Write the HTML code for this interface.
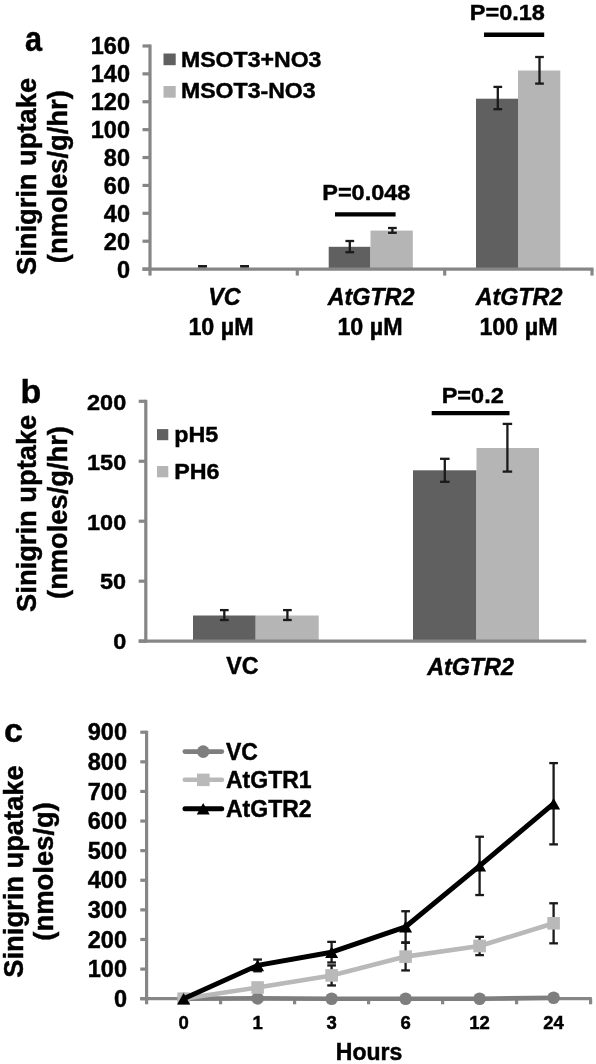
<!DOCTYPE html>
<html><head><meta charset="utf-8"><style>
html,body{margin:0;padding:0;background:#fff;}
body{width:596px;height:1064px;overflow:hidden;}
svg{display:block;will-change:transform;font-family:"Liberation Sans",sans-serif;font-weight:bold;}
text{stroke:#000;stroke-width:0.45px;}
</style></head><body>
<svg width="596" height="1064" viewBox="0 0 596 1064">
<rect x="0" y="0" width="596" height="1064" fill="#fff"/>
<text transform="translate(25,51.3) scale(0.9,1.04)" font-size="34" text-anchor="start" >a</text>
<rect x="328.7" y="246.8" width="41.8" height="22.3" fill="#606060"/>
<rect x="370.5" y="230.6" width="42.3" height="38.5" fill="#b5b5b5"/>
<rect x="476" y="98.7" width="42" height="170.4" fill="#606060"/>
<rect x="518" y="70.5" width="42.3" height="198.6" fill="#b5b5b5"/>
<line x1="150" y1="44.48" x2="150" y2="275.6" stroke="#868686" stroke-width="3.2" stroke-linecap="butt"/>
<line x1="142.5" y1="269.1" x2="593.5" y2="269.1" stroke="#868686" stroke-width="3.2" stroke-linecap="butt"/>
<line x1="142.5" y1="269.1" x2="150" y2="269.1" stroke="#868686" stroke-width="3.2" stroke-linecap="butt"/>
<text x="130" y="277.6" font-size="23.5" text-anchor="end" >0</text>
<line x1="142.5" y1="241.21" x2="150" y2="241.21" stroke="#868686" stroke-width="3.2" stroke-linecap="butt"/>
<text x="130" y="249.71" font-size="23.5" text-anchor="end" >20</text>
<line x1="142.5" y1="213.32" x2="150" y2="213.32" stroke="#868686" stroke-width="3.2" stroke-linecap="butt"/>
<text x="130" y="221.82" font-size="23.5" text-anchor="end" >40</text>
<line x1="142.5" y1="185.43" x2="150" y2="185.43" stroke="#868686" stroke-width="3.2" stroke-linecap="butt"/>
<text x="130" y="193.93" font-size="23.5" text-anchor="end" >60</text>
<line x1="142.5" y1="157.54" x2="150" y2="157.54" stroke="#868686" stroke-width="3.2" stroke-linecap="butt"/>
<text x="130" y="166.04" font-size="23.5" text-anchor="end" >80</text>
<line x1="142.5" y1="129.65" x2="150" y2="129.65" stroke="#868686" stroke-width="3.2" stroke-linecap="butt"/>
<text x="130" y="138.15" font-size="23.5" text-anchor="end" >100</text>
<line x1="142.5" y1="101.76" x2="150" y2="101.76" stroke="#868686" stroke-width="3.2" stroke-linecap="butt"/>
<text x="130" y="110.26" font-size="23.5" text-anchor="end" >120</text>
<line x1="142.5" y1="73.87" x2="150" y2="73.87" stroke="#868686" stroke-width="3.2" stroke-linecap="butt"/>
<text x="130" y="82.37" font-size="23.5" text-anchor="end" >140</text>
<line x1="142.5" y1="45.98" x2="150" y2="45.98" stroke="#868686" stroke-width="3.2" stroke-linecap="butt"/>
<text x="130" y="54.48" font-size="23.5" text-anchor="end" >160</text>
<line x1="297.3" y1="269.1" x2="297.3" y2="275.6" stroke="#868686" stroke-width="3.2" stroke-linecap="butt"/>
<line x1="444.7" y1="269.1" x2="444.7" y2="275.6" stroke="#868686" stroke-width="3.2" stroke-linecap="butt"/>
<line x1="592" y1="269.1" x2="592" y2="275.6" stroke="#868686" stroke-width="3.2" stroke-linecap="butt"/>
<line x1="202.5" y1="266.2" x2="202.5" y2="266.2" stroke="#1a1a1a" stroke-width="2.3" stroke-linecap="butt"/>
<line x1="198.15" y1="266.2" x2="206.85" y2="266.2" stroke="#1a1a1a" stroke-width="2.3" stroke-linecap="butt"/>
<line x1="198.15" y1="266.2" x2="206.85" y2="266.2" stroke="#1a1a1a" stroke-width="2.3" stroke-linecap="butt"/>
<line x1="244.6" y1="266.2" x2="244.6" y2="266.2" stroke="#1a1a1a" stroke-width="2.3" stroke-linecap="butt"/>
<line x1="240.25" y1="266.2" x2="248.95" y2="266.2" stroke="#1a1a1a" stroke-width="2.3" stroke-linecap="butt"/>
<line x1="240.25" y1="266.2" x2="248.95" y2="266.2" stroke="#1a1a1a" stroke-width="2.3" stroke-linecap="butt"/>
<line x1="349.8" y1="241" x2="349.8" y2="252.2" stroke="#1a1a1a" stroke-width="2.3" stroke-linecap="butt"/>
<line x1="345.45" y1="241" x2="354.15" y2="241" stroke="#1a1a1a" stroke-width="2.3" stroke-linecap="butt"/>
<line x1="345.45" y1="252.2" x2="354.15" y2="252.2" stroke="#1a1a1a" stroke-width="2.3" stroke-linecap="butt"/>
<line x1="392.4" y1="228" x2="392.4" y2="232.8" stroke="#1a1a1a" stroke-width="2.3" stroke-linecap="butt"/>
<line x1="388.05" y1="228" x2="396.75" y2="228" stroke="#1a1a1a" stroke-width="2.3" stroke-linecap="butt"/>
<line x1="388.05" y1="232.8" x2="396.75" y2="232.8" stroke="#1a1a1a" stroke-width="2.3" stroke-linecap="butt"/>
<line x1="497.8" y1="86.9" x2="497.8" y2="109.2" stroke="#1a1a1a" stroke-width="2.3" stroke-linecap="butt"/>
<line x1="493.45" y1="86.9" x2="502.15" y2="86.9" stroke="#1a1a1a" stroke-width="2.3" stroke-linecap="butt"/>
<line x1="493.45" y1="109.2" x2="502.15" y2="109.2" stroke="#1a1a1a" stroke-width="2.3" stroke-linecap="butt"/>
<line x1="539.5" y1="57" x2="539.5" y2="83.6" stroke="#1a1a1a" stroke-width="2.3" stroke-linecap="butt"/>
<line x1="535.15" y1="57" x2="543.85" y2="57" stroke="#1a1a1a" stroke-width="2.3" stroke-linecap="butt"/>
<line x1="535.15" y1="83.6" x2="543.85" y2="83.6" stroke="#1a1a1a" stroke-width="2.3" stroke-linecap="butt"/>
<line x1="335" y1="214.4" x2="395.6" y2="214.4" stroke="#000" stroke-width="4.4" stroke-linecap="butt"/>
<line x1="484" y1="34.8" x2="544.2" y2="34.8" stroke="#000" stroke-width="4.4" stroke-linecap="butt"/>
<text transform="translate(366.3,200.2) scale(1,0.93)" font-size="23.5" text-anchor="middle" >P=0.048</text>
<text transform="translate(507.3,19.9) scale(1,0.92)" font-size="23.5" text-anchor="middle" >P=0.18</text>
<rect x="163.5" y="53.5" width="12.2" height="11.7" fill="#606060"/>
<rect x="163.5" y="86" width="12.2" height="11.7" fill="#b5b5b5"/>
<text transform="translate(181,66.7) scale(1,0.96)" font-size="23.1" text-anchor="start" >MSOT3+NO3</text>
<text transform="translate(181,98.2) scale(1,0.96)" font-size="23.1" text-anchor="start" >MSOT3-NO3</text>
<text x="224.5" y="304.5" font-size="23.3" text-anchor="middle" font-style="italic" >VC</text>
<text x="221" y="334.5" font-size="23.3" text-anchor="middle" >10 µM</text>
<text x="371" y="304.5" font-size="23.3" text-anchor="middle" font-style="italic" >AtGTR2</text>
<text x="370" y="334.5" font-size="23.3" text-anchor="middle" >10 µM</text>
<text x="519" y="304.5" font-size="23.3" text-anchor="middle" font-style="italic" >AtGTR2</text>
<text x="518.5" y="334.5" font-size="23.3" text-anchor="middle" >100 µM</text>
<text transform="translate(36.3,176.5) rotate(-90)" font-size="27.3" text-anchor="middle">Sinigrin uptake</text>
<text transform="translate(67,176.7) rotate(-90)" font-size="27.3" text-anchor="middle">(nmoles/g/hr)</text>
<text x="20.6" y="402.5" font-size="34" text-anchor="start" >b</text>
<rect x="193" y="615.5" width="62.7" height="25.6" fill="#606060"/>
<rect x="255.7" y="615.5" width="63" height="25.6" fill="#b5b5b5"/>
<rect x="413" y="470.3" width="63.5" height="170.8" fill="#606060"/>
<rect x="476.5" y="448" width="62.5" height="193.1" fill="#b5b5b5"/>
<line x1="145.8" y1="399.8" x2="145.8" y2="642.7" stroke="#868686" stroke-width="3.2" stroke-linecap="butt"/>
<line x1="138.7" y1="641.1" x2="586.3" y2="641.1" stroke="#868686" stroke-width="3.2" stroke-linecap="butt"/>
<line x1="138.7" y1="641.1" x2="145.8" y2="641.1" stroke="#868686" stroke-width="3.2" stroke-linecap="butt"/>
<text transform="translate(126.2,649.4) scale(1,0.93)" font-size="23.5" text-anchor="end" >0</text>
<line x1="138.7" y1="581.15" x2="145.8" y2="581.15" stroke="#868686" stroke-width="3.2" stroke-linecap="butt"/>
<text transform="translate(126.2,589.45) scale(1,0.93)" font-size="23.5" text-anchor="end" >50</text>
<line x1="138.7" y1="521.2" x2="145.8" y2="521.2" stroke="#868686" stroke-width="3.2" stroke-linecap="butt"/>
<text transform="translate(126.2,529.5) scale(1,0.93)" font-size="23.5" text-anchor="end" >100</text>
<line x1="138.7" y1="461.25" x2="145.8" y2="461.25" stroke="#868686" stroke-width="3.2" stroke-linecap="butt"/>
<text transform="translate(126.2,469.55) scale(1,0.93)" font-size="23.5" text-anchor="end" >150</text>
<line x1="138.7" y1="401.3" x2="145.8" y2="401.3" stroke="#868686" stroke-width="3.2" stroke-linecap="butt"/>
<text transform="translate(126.2,409.6) scale(1,0.93)" font-size="23.5" text-anchor="end" >200</text>
<line x1="224.3" y1="610.1" x2="224.3" y2="620" stroke="#1a1a1a" stroke-width="2.3" stroke-linecap="butt"/>
<line x1="219.95" y1="610.1" x2="228.65" y2="610.1" stroke="#1a1a1a" stroke-width="2.3" stroke-linecap="butt"/>
<line x1="219.95" y1="620" x2="228.65" y2="620" stroke="#1a1a1a" stroke-width="2.3" stroke-linecap="butt"/>
<line x1="287.4" y1="610.1" x2="287.4" y2="620" stroke="#1a1a1a" stroke-width="2.3" stroke-linecap="butt"/>
<line x1="283.05" y1="610.1" x2="291.75" y2="610.1" stroke="#1a1a1a" stroke-width="2.3" stroke-linecap="butt"/>
<line x1="283.05" y1="620" x2="291.75" y2="620" stroke="#1a1a1a" stroke-width="2.3" stroke-linecap="butt"/>
<line x1="444.8" y1="458.8" x2="444.8" y2="481.8" stroke="#1a1a1a" stroke-width="2.3" stroke-linecap="butt"/>
<line x1="440.05" y1="458.8" x2="449.55" y2="458.8" stroke="#1a1a1a" stroke-width="2.3" stroke-linecap="butt"/>
<line x1="440.05" y1="481.8" x2="449.55" y2="481.8" stroke="#1a1a1a" stroke-width="2.3" stroke-linecap="butt"/>
<line x1="507.4" y1="423.9" x2="507.4" y2="471.6" stroke="#1a1a1a" stroke-width="2.3" stroke-linecap="butt"/>
<line x1="502.65" y1="423.9" x2="512.15" y2="423.9" stroke="#1a1a1a" stroke-width="2.3" stroke-linecap="butt"/>
<line x1="502.65" y1="471.6" x2="512.15" y2="471.6" stroke="#1a1a1a" stroke-width="2.3" stroke-linecap="butt"/>
<line x1="431.7" y1="413.1" x2="509.5" y2="413.1" stroke="#000" stroke-width="4.4" stroke-linecap="butt"/>
<text transform="translate(472.7,402.7) scale(1,0.93)" font-size="23.5" text-anchor="middle" >P=0.2</text>
<rect x="157" y="429.1" width="11.3" height="11.1" fill="#606060"/>
<rect x="157" y="466" width="11.3" height="11.3" fill="#b5b5b5"/>
<text transform="translate(174.2,441.6) scale(1,0.94)" font-size="23.3" text-anchor="start" >pH5</text>
<text transform="translate(174.2,479.1) scale(1,0.93)" font-size="23.3" text-anchor="start" >PH6</text>
<text x="242.5" y="674" font-size="23.3" text-anchor="middle" >VC</text>
<text x="470.5" y="674.5" font-size="23.3" text-anchor="middle" font-style="italic" >AtGTR2</text>
<text transform="translate(35.8,513.3) rotate(-90)" font-size="27.3" text-anchor="middle">Sinigrin uptake</text>
<text transform="translate(66.5,512.5) rotate(-90)" font-size="27.3" text-anchor="middle">(nmoles/g/hr)</text>
<text x="4" y="742" font-size="34" text-anchor="start" >c</text>
<line x1="146.6" y1="730.71" x2="146.6" y2="1004.3" stroke="#868686" stroke-width="3.2" stroke-linecap="butt"/>
<line x1="140.3" y1="998.7" x2="591.8" y2="998.7" stroke="#868686" stroke-width="3.2" stroke-linecap="butt"/>
<line x1="140.3" y1="998.7" x2="146.6" y2="998.7" stroke="#868686" stroke-width="3.2" stroke-linecap="butt"/>
<text x="127" y="1006.9" font-size="23.5" text-anchor="end" >0</text>
<line x1="140.3" y1="969.09" x2="146.6" y2="969.09" stroke="#868686" stroke-width="3.2" stroke-linecap="butt"/>
<text x="127" y="977.29" font-size="23.5" text-anchor="end" >100</text>
<line x1="140.3" y1="939.48" x2="146.6" y2="939.48" stroke="#868686" stroke-width="3.2" stroke-linecap="butt"/>
<text x="127" y="947.68" font-size="23.5" text-anchor="end" >200</text>
<line x1="140.3" y1="909.87" x2="146.6" y2="909.87" stroke="#868686" stroke-width="3.2" stroke-linecap="butt"/>
<text x="127" y="918.07" font-size="23.5" text-anchor="end" >300</text>
<line x1="140.3" y1="880.26" x2="146.6" y2="880.26" stroke="#868686" stroke-width="3.2" stroke-linecap="butt"/>
<text x="127" y="888.46" font-size="23.5" text-anchor="end" >400</text>
<line x1="140.3" y1="850.65" x2="146.6" y2="850.65" stroke="#868686" stroke-width="3.2" stroke-linecap="butt"/>
<text x="127" y="858.85" font-size="23.5" text-anchor="end" >500</text>
<line x1="140.3" y1="821.04" x2="146.6" y2="821.04" stroke="#868686" stroke-width="3.2" stroke-linecap="butt"/>
<text x="127" y="829.24" font-size="23.5" text-anchor="end" >600</text>
<line x1="140.3" y1="791.43" x2="146.6" y2="791.43" stroke="#868686" stroke-width="3.2" stroke-linecap="butt"/>
<text x="127" y="799.63" font-size="23.5" text-anchor="end" >700</text>
<line x1="140.3" y1="761.82" x2="146.6" y2="761.82" stroke="#868686" stroke-width="3.2" stroke-linecap="butt"/>
<text x="127" y="770.02" font-size="23.5" text-anchor="end" >800</text>
<line x1="140.3" y1="732.21" x2="146.6" y2="732.21" stroke="#868686" stroke-width="3.2" stroke-linecap="butt"/>
<text x="127" y="740.41" font-size="23.5" text-anchor="end" >900</text>
<line x1="220.6" y1="998.7" x2="220.6" y2="1004.3" stroke="#868686" stroke-width="3.2" stroke-linecap="butt"/>
<line x1="294.6" y1="998.7" x2="294.6" y2="1004.3" stroke="#868686" stroke-width="3.2" stroke-linecap="butt"/>
<line x1="368.6" y1="998.7" x2="368.6" y2="1004.3" stroke="#868686" stroke-width="3.2" stroke-linecap="butt"/>
<line x1="442.6" y1="998.7" x2="442.6" y2="1004.3" stroke="#868686" stroke-width="3.2" stroke-linecap="butt"/>
<line x1="516.6" y1="998.7" x2="516.6" y2="1004.3" stroke="#868686" stroke-width="3.2" stroke-linecap="butt"/>
<line x1="590.6" y1="998.7" x2="590.6" y2="1004.3" stroke="#868686" stroke-width="3.2" stroke-linecap="butt"/>
<text x="183.6" y="1028.5" font-size="18.5" text-anchor="middle" >0</text>
<text x="257.6" y="1028.5" font-size="18.5" text-anchor="middle" >1</text>
<text x="331.6" y="1028.5" font-size="18.5" text-anchor="middle" >3</text>
<text x="405.6" y="1028.5" font-size="18.5" text-anchor="middle" >6</text>
<text x="479.6" y="1028.5" font-size="18.5" text-anchor="middle" >12</text>
<text x="553.6" y="1028.5" font-size="18.5" text-anchor="middle" >24</text>
<text x="369" y="1060.3" font-size="23" text-anchor="middle" >Hours</text>
<line x1="257.6" y1="959.53" x2="257.6" y2="971.31" stroke="#1a1a1a" stroke-width="2.3" stroke-linecap="butt"/>
<line x1="253.25" y1="959.53" x2="261.95" y2="959.53" stroke="#1a1a1a" stroke-width="2.3" stroke-linecap="butt"/>
<line x1="253.25" y1="971.31" x2="261.95" y2="971.31" stroke="#1a1a1a" stroke-width="2.3" stroke-linecap="butt"/>
<line x1="331.6" y1="965.42" x2="331.6" y2="985.45" stroke="#1a1a1a" stroke-width="2.3" stroke-linecap="butt"/>
<line x1="327.25" y1="965.42" x2="335.95" y2="965.42" stroke="#1a1a1a" stroke-width="2.3" stroke-linecap="butt"/>
<line x1="327.25" y1="985.45" x2="335.95" y2="985.45" stroke="#1a1a1a" stroke-width="2.3" stroke-linecap="butt"/>
<line x1="331.6" y1="941.86" x2="331.6" y2="962.48" stroke="#1a1a1a" stroke-width="2.3" stroke-linecap="butt"/>
<line x1="327.25" y1="941.86" x2="335.95" y2="941.86" stroke="#1a1a1a" stroke-width="2.3" stroke-linecap="butt"/>
<line x1="327.25" y1="962.48" x2="335.95" y2="962.48" stroke="#1a1a1a" stroke-width="2.3" stroke-linecap="butt"/>
<line x1="405.6" y1="942.75" x2="405.6" y2="970.43" stroke="#1a1a1a" stroke-width="2.3" stroke-linecap="butt"/>
<line x1="401.25" y1="942.75" x2="409.95" y2="942.75" stroke="#1a1a1a" stroke-width="2.3" stroke-linecap="butt"/>
<line x1="401.25" y1="970.43" x2="409.95" y2="970.43" stroke="#1a1a1a" stroke-width="2.3" stroke-linecap="butt"/>
<line x1="405.6" y1="911.23" x2="405.6" y2="942.45" stroke="#1a1a1a" stroke-width="2.3" stroke-linecap="butt"/>
<line x1="401.25" y1="911.23" x2="409.95" y2="911.23" stroke="#1a1a1a" stroke-width="2.3" stroke-linecap="butt"/>
<line x1="401.25" y1="942.45" x2="409.95" y2="942.45" stroke="#1a1a1a" stroke-width="2.3" stroke-linecap="butt"/>
<line x1="479.6" y1="936.86" x2="479.6" y2="955.11" stroke="#1a1a1a" stroke-width="2.3" stroke-linecap="butt"/>
<line x1="475.25" y1="936.86" x2="483.95" y2="936.86" stroke="#1a1a1a" stroke-width="2.3" stroke-linecap="butt"/>
<line x1="475.25" y1="955.11" x2="483.95" y2="955.11" stroke="#1a1a1a" stroke-width="2.3" stroke-linecap="butt"/>
<line x1="479.6" y1="836.73" x2="479.6" y2="895.04" stroke="#1a1a1a" stroke-width="2.3" stroke-linecap="butt"/>
<line x1="475.25" y1="836.73" x2="483.95" y2="836.73" stroke="#1a1a1a" stroke-width="2.3" stroke-linecap="butt"/>
<line x1="475.25" y1="895.04" x2="483.95" y2="895.04" stroke="#1a1a1a" stroke-width="2.3" stroke-linecap="butt"/>
<line x1="553.6" y1="903.28" x2="553.6" y2="943.33" stroke="#1a1a1a" stroke-width="2.3" stroke-linecap="butt"/>
<line x1="549.25" y1="903.28" x2="557.95" y2="903.28" stroke="#1a1a1a" stroke-width="2.3" stroke-linecap="butt"/>
<line x1="549.25" y1="943.33" x2="557.95" y2="943.33" stroke="#1a1a1a" stroke-width="2.3" stroke-linecap="butt"/>
<line x1="553.6" y1="763.1" x2="553.6" y2="844.38" stroke="#1a1a1a" stroke-width="2.3" stroke-linecap="butt"/>
<line x1="549.25" y1="763.1" x2="557.95" y2="763.1" stroke="#1a1a1a" stroke-width="2.3" stroke-linecap="butt"/>
<line x1="549.25" y1="844.38" x2="557.95" y2="844.38" stroke="#1a1a1a" stroke-width="2.3" stroke-linecap="butt"/>
<polyline points="183.6,998.7 257.6,998.4 331.6,998.7 405.6,998.7 479.6,998.7 553.6,997.8" fill="none" stroke="#7e7e7e" stroke-width="4.6" stroke-linejoin="round"/>
<circle cx="183.6" cy="998.7" r="6.3" fill="#7e7e7e"/>
<circle cx="257.6" cy="998.4" r="6.3" fill="#7e7e7e"/>
<circle cx="331.6" cy="998.7" r="6.3" fill="#7e7e7e"/>
<circle cx="405.6" cy="998.7" r="6.3" fill="#7e7e7e"/>
<circle cx="479.6" cy="998.7" r="6.3" fill="#7e7e7e"/>
<circle cx="553.6" cy="997.8" r="6.3" fill="#7e7e7e"/>
<polyline points="183.6,998.7 257.6,987.5 331.6,975.4 405.6,956.6 479.6,946.0 553.6,923.3" fill="none" stroke="#b9b9b9" stroke-width="4.6" stroke-linejoin="round"/>
<rect x="177.3" y="992.4" width="12.6" height="12.6" fill="#b9b9b9"/>
<rect x="251.3" y="981.2" width="12.6" height="12.6" fill="#b9b9b9"/>
<rect x="325.3" y="969.1" width="12.6" height="12.6" fill="#b9b9b9"/>
<rect x="399.3" y="950.3" width="12.6" height="12.6" fill="#b9b9b9"/>
<rect x="473.3" y="939.7" width="12.6" height="12.6" fill="#b9b9b9"/>
<rect x="547.3" y="917.0" width="12.6" height="12.6" fill="#b9b9b9"/>
<polyline points="183.6,998.7 257.6,965.4 331.6,952.2 405.6,926.8 479.6,865.9 553.6,803.7" fill="none" stroke="#000000" stroke-width="5" stroke-linejoin="round"/>
<polygon points="177.1,1004.5 190.1,1004.5 183.6,993.0" fill="#000"/>
<polygon points="251.1,971.2 264.1,971.2 257.6,959.7" fill="#000"/>
<polygon points="325.1,957.9 338.1,957.9 331.6,946.4" fill="#000"/>
<polygon points="399.1,932.6 412.1,932.6 405.6,921.1" fill="#000"/>
<polygon points="473.1,871.6 486.1,871.6 479.6,860.1" fill="#000"/>
<polygon points="547.1,809.5 560.1,809.5 553.6,798.0" fill="#000"/>
<line x1="184.8" y1="751.6" x2="221.9" y2="751.6" stroke="#7e7e7e" stroke-width="4.6" stroke-linecap="round"/>
<circle cx="203.2" cy="751.6" r="6.3" fill="#7e7e7e"/>
<line x1="184.8" y1="779.8" x2="221.9" y2="779.8" stroke="#b9b9b9" stroke-width="4.6" stroke-linecap="round"/>
<rect x="197" y="773.6" width="12.6" height="12.5" fill="#b9b9b9"/>
<line x1="185" y1="808.7" x2="221.7" y2="808.7" stroke="#000000" stroke-width="5" stroke-linecap="round"/>
<polygon points="196.7,814.5 209.7,814.5 203.2,803.0" fill="#000"/>
<text x="226" y="759.6" font-size="23" text-anchor="start" >VC</text>
<text x="226" y="788.2" font-size="23" text-anchor="start" >AtGTR1</text>
<text x="226" y="817.2" font-size="23" text-anchor="start" >AtGTR2</text>
<text transform="translate(22.5,871.5) rotate(-90)" font-size="27.3" text-anchor="middle">Sinigrin upatake</text>
<text transform="translate(53.4,871.4) rotate(-90)" font-size="27.4" text-anchor="middle">(nmoles/g)</text>
</svg>
</body></html>
